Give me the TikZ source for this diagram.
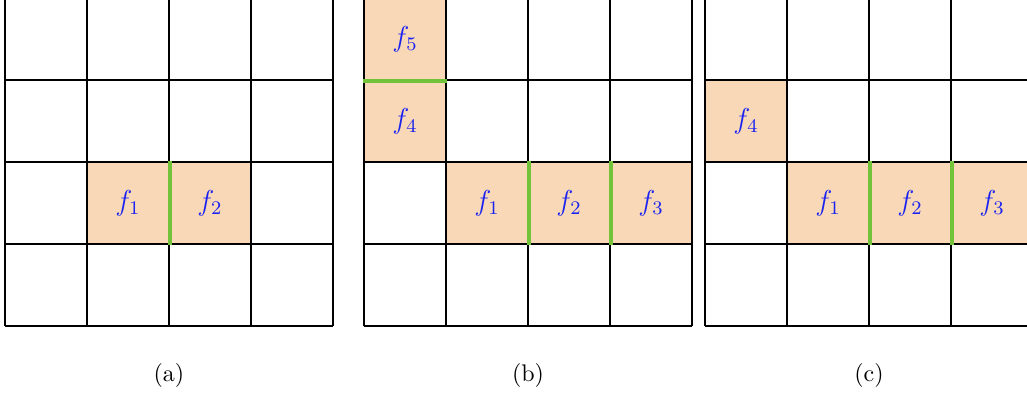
\documentclass[tikz,border=0pt]{standalone}
\usepackage{xcolor}
\usepackage{tikz}
\definecolor{peach}{HTML}{F9D8B8}
\definecolor{seam}{HTML}{72C23A}
\definecolor{fnblue}{HTML}{1A22F0}

\begin{document}
\begin{tikzpicture}[
  gridline/.style={draw=black,thick},
  cell/.style={draw=black,thick,fill=peach,minimum size=1.2cm,inner sep=0pt,
    text=fnblue,font=\large},
  joint/.style={draw=seam,line width=1.5pt},
  caption/.style={font=\normalsize}
]
\useasboundingbox (-0.073,-0.995) rectangle (14.956,4.771);

% panel (a)
\begin{scope}[shift={(0,0)}]
  \draw[gridline,step=1.2] (0,0) grid (4.8,4.8);
  \node[cell] (a1) at (1.8,1.8) {$f_1$};
  \node[cell] (a2) at (3.0,1.8) {$f_2$};
  \draw[joint] (a1.north east) -- (a1.south east);
  \node[caption] (capa) at (2.4,-0.717) {(a)};
\end{scope}

% panel (b)
\begin{scope}[shift={(5.254,0)}]
  \draw[gridline,step=1.2] (0,0) grid (4.8,4.8);
  \node[cell] (b5) at (0.6,4.2) {$f_5$};
  \node[cell] (b4) at (0.6,3.0) {$f_4$};
  \node[cell] (b1) at (1.8,1.8) {$f_1$};
  \node[cell] (b2) at (3.0,1.8) {$f_2$};
  \node[cell] (b3) at (4.2,1.8) {$f_3$};
  \draw[joint] (b5.south west) -- (b5.south east);
  \draw[joint] (b1.north east) -- (b1.south east);
  \draw[joint] (b2.north east) -- (b2.south east);
  \node[caption] (capb) at (2.4,-0.717) {(b)};
\end{scope}

% panel (c)
\begin{scope}[shift={(10.244,0)}]
  \draw[gridline,step=1.2] (0,0) grid (4.8,4.8);
  \node[cell] (c4) at (0.6,3.0) {$f_4$};
  \node[cell] (c1) at (1.8,1.8) {$f_1$};
  \node[cell] (c2) at (3.0,1.8) {$f_2$};
  \node[cell] (c3) at (4.2,1.8) {$f_3$};
  \draw[joint] (c1.north east) -- (c1.south east);
  \draw[joint] (c2.north east) -- (c2.south east);
  \node[caption] (capc) at (2.4,-0.717) {(c)};
\end{scope}
\end{tikzpicture}
\end{document}
